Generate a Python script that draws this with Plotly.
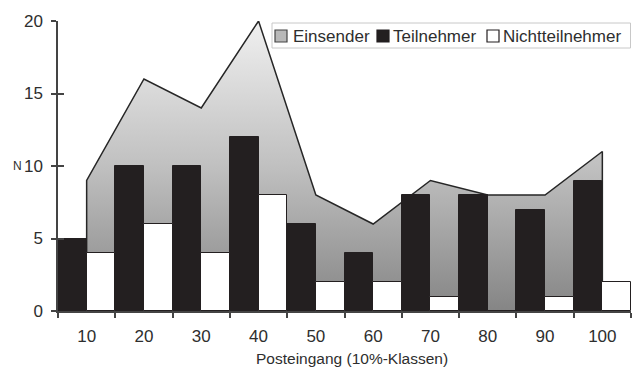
import plotly.graph_objects as go

# Posteingang in 10%-Klassen
klassen = ["10", "20", "30", "40", "50", "60", "70", "80", "90", "100"]
einsender = [9, 16, 14, 20, 8, 6, 9, 8, 8, 11]
teilnehmer = [5, 10, 10, 12, 6, 4, 8, 8, 7, 9]
nichtteilnehmer = [4, 6, 4, 8, 2, 2, 1, 0, 1, 2]
y_ticks = [0, 5, 10, 15, 20]

W, H = 632, 367
ML, MR, MT, MB = 58, 1, 21, 56
FONT = "Liberation Sans, Arial, sans-serif"
INK = "#231f20"
TEXT = "#2e2e2e"


def px_x(p):
    return (p - ML) / (W - ML - MR)


def px_y(p):
    return (H - MB - p) / (H - MT - MB)


fig = go.Figure()

# Einsender: closed area with vertical gradient (base subplot, drawn underneath)
fig.add_trace(go.Scatter(
    x=[klassen[0]] + klassen + [klassen[-1]],
    y=[0] + einsender + [0],
    mode="lines",
    fill="toself",
    fillgradient=dict(type="vertical", start=0, stop=20,
                      colorscale=[[0, "#858585"], [0.5, "#c0c0c0"], [1, "#f0f0f0"]]),
    line=dict(color="#262626", width=1.5),
    name="Einsender",
    showlegend=False,
    hoverinfo="skip",
    xaxis="x", yaxis="y",
))

# Teilnehmer / Nichtteilnehmer bars on the overlaid subplot, drawn on top
fig.add_trace(go.Bar(
    x=klassen, y=teilnehmer, name="Teilnehmer",
    marker=dict(color=INK, line=dict(color=INK, width=1)),
    showlegend=False, xaxis="x2", yaxis="y2",
))
fig.add_trace(go.Bar(
    x=klassen, y=nichtteilnehmer, name="Nichtteilnehmer",
    marker=dict(color="white", line=dict(color=INK, width=1)),
    showlegend=False, xaxis="x2", yaxis="y2",
))

axis_font = dict(family=FONT, size=17, color=TEXT)

fig.update_layout(
    width=W, height=H,
    margin=dict(l=ML, r=MR, t=MT, b=MB, pad=0),
    paper_bgcolor="white", plot_bgcolor="white",
    barmode="group", bargap=0, bargroupgap=0,
    font=dict(family=FONT, color=TEXT),
    xaxis=dict(
        type="category", categoryorder="array", categoryarray=klassen,
        range=[-0.5, len(klassen) - 0.5],
        tickson="boundaries", ticks="outside", ticklen=5, tickwidth=1.5,
        tickcolor="#444", showline=True, linecolor="#444", linewidth=1.5,
        showgrid=False, zeroline=False, tickfont=axis_font,
        ticklabelstandoff=9,
    ),
    yaxis=dict(
        range=[0, 20], tickmode="array", tickvals=y_ticks,
        ticks="outside", ticklen=5, tickwidth=1.5, tickcolor="#444",
        showline=True, linecolor="#444", linewidth=1.5,
        showgrid=False, zeroline=False, tickfont=axis_font,
        ticklabelstandoff=5,
    ),
    xaxis2=dict(
        type="category", categoryorder="array", categoryarray=klassen,
        range=[-0.5, len(klassen) - 0.5],
        overlaying="x", anchor="y2", visible=False,
    ),
    yaxis2=dict(
        range=[0, 20], tickmode="array", tickvals=y_ticks,
        overlaying="y", anchor="x2", side="left",
        ticks="inside", ticklen=6, tickwidth=1.5, tickcolor="#444",
        showticklabels=False, showline=False, showgrid=False, zeroline=False,
    ),
)

# X axis caption
fig.add_annotation(text="Posteingang (10%-Klassen)", x=px_x(352), xref="paper",
                   xanchor="center", y=px_y(358), yref="paper", yanchor="middle",
                   showarrow=False, font=dict(family=FONT, size=15.5, color=TEXT))

# Axis caption "N" beside the 10 tick
fig.add_annotation(text="N", x=0, xref="paper", xshift=-41, xanchor="center",
                   y=10, yref="y", yanchor="middle", showarrow=False,
                   font=dict(family=FONT, size=12, color=TEXT))

# Legend box
fig.add_shape(type="rect", xref="paper", yref="paper",
              x0=px_x(272), x1=px_x(630.5), y0=px_y(48), y1=px_y(23),
              line=dict(color="#c8c8c8", width=1), fillcolor="white", layer="above")

legend_items = [
    ("Einsender", 275, 292, "#b8b8b8", "#444"),
    ("Teilnehmer", 377, 392, INK, INK),
    ("Nichtteilnehmer", 487, 502, "white", INK),
]
for label, icon_x, text_x, fill, edge in legend_items:
    fig.add_shape(type="rect", xref="paper", yref="paper",
                  x0=px_x(icon_x), x1=px_x(icon_x + 12),
                  y0=px_y(42), y1=px_y(30),
                  line=dict(color=edge, width=1.2), fillcolor=fill, layer="above")
    fig.add_annotation(text=label, x=px_x(text_x), xref="paper", xanchor="left",
                       y=px_y(36), yref="paper", yanchor="middle",
                       showarrow=False, borderpad=0,
                       font=dict(family=FONT, size=17, color=TEXT))

fig.write_html("out.html")
